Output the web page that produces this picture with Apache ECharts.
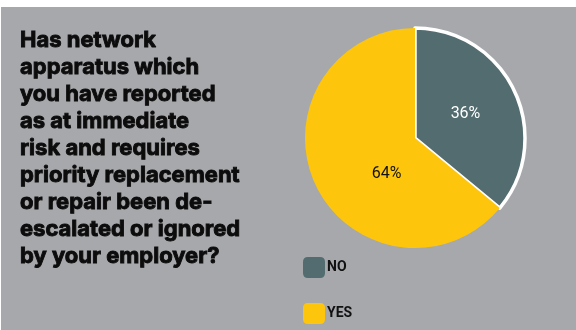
<!DOCTYPE html>
<html>
<head>
<meta charset="utf-8">
<script src="https://cdn.jsdelivr.net/npm/echarts@6/dist/echarts.min.js"></script>
<style>
  html, body { margin: 0; padding: 0; background: #ffffff; }
  #chart { position: absolute; left: 1px; top: 7px; width: 575px; height: 323px; }
</style>
</head>
<body>
<div id="chart"></div>
<script>
// Survey answers and their shares (percent)
const categories = ['NO', 'YES'];
const values = [36, 64];
const colors = ['#536c6f', '#fdc60c'];
const labelColors = ['#ffffff', '#111111'];
const questionLines = [
  'Has network',
  'apparatus which',
  'you have reported',
  'as at immediate',
  'risk and requires',
  'priority replacement',
  'or repair been de-',
  'escalated or ignored',
  'by your employer?'
];

const chart = echarts.init(document.getElementById('chart'));

const data = categories.map((name, i) => ({
  name: name,
  value: values[i],
  itemStyle: {
    color: colors[i],
    borderColor: i === 0 ? '#ffffff' : colors[i],
    borderWidth: i === 0 ? 3.5 : 0
  },
  label: {
    color: labelColors[i],
    offset: i === 0 ? [-2, 1] : [24, 11]
  }
}));

chart.setOption({
  backgroundColor: '#a7a8ab',
  animation: false,
  title: {
    text: questionLines.join('\n'),
    left: 14,
    top: 15,
    padding: 5,
    textStyle: {
      fontFamily: 'Inter',
      fontWeight: 'bold',
      fontSize: 22,
      lineHeight: 27,
      color: '#0c0c0c',
      textBorderColor: '#0c0c0c',
      textBorderWidth: 0.9
    }
  },
  legend: {
    orient: 'vertical',
    left: 302,
    top: 250,
    padding: 0,
    height: 80,
    itemWidth: 22,
    itemHeight: 21,
    itemGap: 25,
    icon: 'path://M5,0 L17,0 Q22,0 22,5 L22,16 Q22,21 17,21 L5,21 Q0,21 0,16 L0,5 Q0,0 5,0 Z',
    itemStyle: { borderWidth: 0 },
    textStyle: {
      fontFamily: 'Roboto',
      fontWeight: 'bold',
      fontSize: 14,
      color: '#111111',
      padding: [1, 0, 0, -3]
    },
    data: categories
  },
  series: [{
    type: 'pie',
    center: [414, 131],
    radius: [0, 110],
    startAngle: 90,
    clockwise: true,
    silent: true,
    label: {
      show: true,
      position: 'inside',
      formatter: '{c}%',
      fontFamily: 'Roboto',
      fontSize: 16
    },
    labelLine: { show: false },
    data: data
  }]
});
</script>
</body>
</html>
